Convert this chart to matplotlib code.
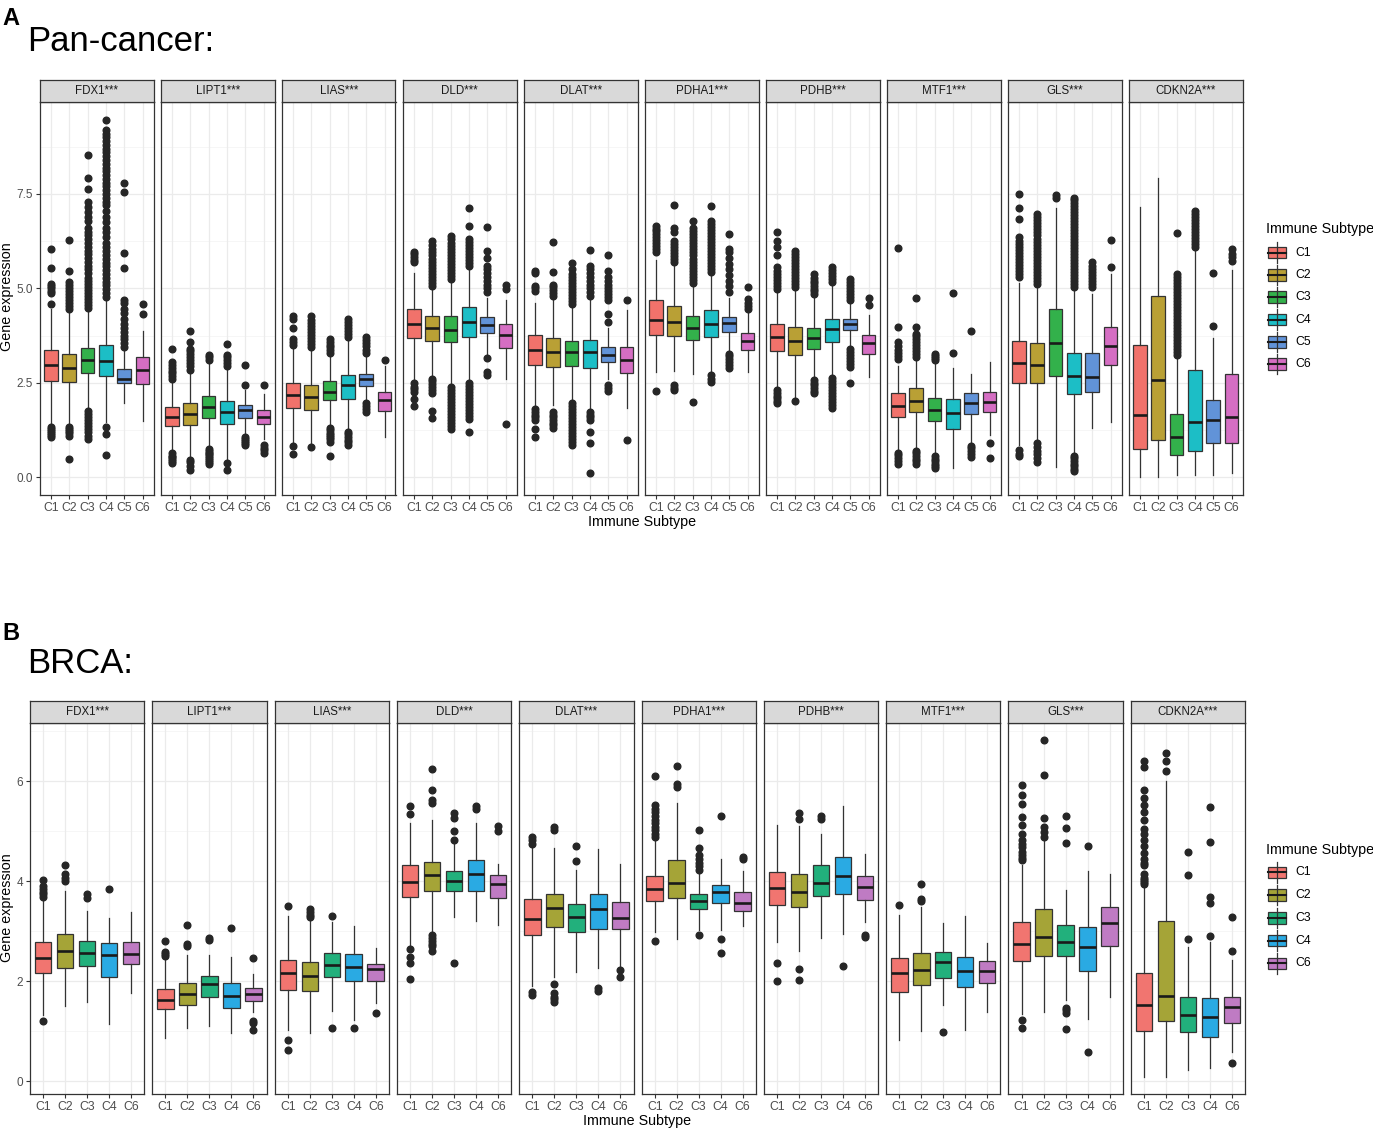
import matplotlib
matplotlib.use('Agg')
import matplotlib.pyplot as plt
from matplotlib.patches import Rectangle
from matplotlib.lines import Line2D

plt.rcParams['font.family'] = ['Liberation Sans', 'DejaVu Sans']

# ---------------- DATA ----------------
GENES = ['FDX1', 'LIPT1', 'LIAS', 'DLD', 'DLAT', 'PDHA1', 'PDHB', 'MTF1', 'GLS', 'CDKN2A']
A_CATS = ['C1', 'C2', 'C3', 'C4', 'C5', 'C6']
B_CATS = ['C1', 'C2', 'C3', 'C4', 'C6']
A_COLORS = ['#F1726B', '#B9A035', '#33B14B', '#1CBEC6', '#6193D8', '#D56EC3']
B_COLORS = ['#F17570', '#A5A437', '#22B07C', '#2AAAE3', '#BF7BC3']
A_TICKS = [0.0, 2.5, 5.0, 7.5]
A_TICKLABELS = ['0.0', '2.5', '5.0', '7.5']
B_TICKS = [0, 2, 4, 6]
B_TICKLABELS = ['0', '2', '4', '6']

# box rows: [whisker low, q1, median, q3, whisker high] per subtype
# ---- Panel A: Pan-cancer ----
A_FDX1_BOX = [[1.42, 2.55, 2.98, 3.36, 4.45], [1.42, 2.52, 2.89, 3.27, 4.38], [1.82, 2.76, 3.11, 3.43, 4.40],
              [1.45, 2.67, 3.07, 3.49, 4.70], [1.97, 2.48, 2.61, 2.87, 3.35], [1.49, 2.46, 2.85, 3.17, 3.86]]
A_FDX1_OUT = [[1.07, 1.12, 1.17, 1.22, 1.28, 1.33, 4.59, 4.88, 4.94, 5.0, 5.06, 5.12, 5.53, 6.03],
              [0.48, 1.1, 1.16, 1.22, 1.28, 1.34, 4.45, 4.53, 4.61, 4.69, 4.77, 4.85, 4.93, 5.01, 5.09, 5.17, 5.47, 6.28],
              [1.0, 1.1, 1.2, 1.28, 1.36, 1.44, 1.52, 1.6, 1.68, 1.76, 4.47, 4.55, 4.63, 4.71, 4.79, 4.87, 4.95, 5.03,
               5.11, 5.19, 5.27, 5.4, 5.5, 5.6, 5.7, 5.8, 5.9, 6.0, 6.1, 6.2, 6.3, 6.4, 6.5, 6.6, 6.79, 6.9, 7.02,
               7.15, 7.3, 7.63, 7.92, 8.52],
              [0.59, 1.13, 1.34, 4.78, 4.88, 4.98, 5.08, 5.18, 5.28, 5.38, 5.48, 5.58, 5.68, 5.78, 5.88, 5.98, 6.1,
               6.2, 6.35, 6.5, 6.6, 6.75, 6.9, 7.05, 7.2, 7.3, 7.4, 7.5, 7.6, 7.7, 7.8, 7.9, 8.0, 8.1, 8.2, 8.3, 8.4,
               8.5, 8.6, 8.7, 8.8, 8.9, 9.0, 9.1, 9.2, 9.47],
              [3.45, 3.55, 3.65, 3.75, 3.85, 3.95, 4.05, 4.2, 4.35, 4.46, 4.62, 4.68, 5.54, 5.93, 7.56, 7.8],
              [4.33, 4.59]]
A_LIPT1_BOX = [[0.66, 1.35, 1.60, 1.85, 2.55], [0.55, 1.38, 1.66, 1.95, 2.79], [0.81, 1.57, 1.86, 2.15, 3.02],
               [0.46, 1.41, 1.73, 2.02, 2.90], [1.10, 1.56, 1.78, 1.91, 2.30], [1.00, 1.40, 1.60, 1.78, 2.20]]
A_LIPT1_OUT = [[0.37, 0.42, 0.47, 0.52, 0.57, 0.63, 2.61, 2.68, 2.75, 2.82, 2.9, 2.97, 3.05, 3.40],
               [0.19, 0.3, 0.4, 0.45, 2.85, 2.93, 3.01, 3.09, 3.17, 3.25, 3.33, 3.4, 3.58, 3.86],
               [0.35, 0.4, 0.45, 0.5, 0.55, 0.6, 0.65, 0.7, 0.75, 3.1, 3.17, 3.24],
               [0.18, 0.37, 2.95, 3.02, 3.1, 3.17, 3.24, 3.52],
               [0.85, 0.9, 0.95, 1.0, 1.05, 2.45, 2.97],
               [0.65, 0.72, 0.78, 0.85, 2.45]]
A_LIAS_BOX = [[0.90, 1.84, 2.17, 2.50, 3.45], [0.90, 1.79, 2.11, 2.45, 3.40], [1.40, 2.04, 2.26, 2.54, 3.25],
              [1.30, 2.08, 2.44, 2.70, 3.60], [2.00, 2.41, 2.59, 2.73, 3.20], [1.05, 1.76, 2.04, 2.26, 2.95]]
A_LIAS_OUT = [[0.62, 0.83, 3.5, 3.58, 3.66, 3.96, 4.2, 4.26],
              [0.81, 3.45, 3.52, 3.6, 3.68, 3.76, 3.84, 3.92, 4.0, 4.08, 4.15, 4.28],
              [0.55, 0.94, 1.0, 1.06, 1.12, 1.18, 1.24, 1.3, 3.3, 3.37, 3.44, 3.51, 3.58, 3.65],
              [0.85, 0.92, 0.99, 1.06, 1.13, 1.2, 3.7, 3.78, 3.86, 3.94, 4.02, 4.1, 4.2],
              [1.73, 1.8, 1.88, 1.95, 3.3, 3.38, 3.46, 3.54, 3.62, 3.7],
              [3.10]]
A_DLD_BOX = [[2.52, 3.69, 4.06, 4.46, 5.40], [2.70, 3.61, 3.96, 4.28, 5.00], [2.50, 3.58, 3.90, 4.26, 5.15],
             [2.60, 3.71, 4.11, 4.50, 5.50], [3.20, 3.82, 4.04, 4.24, 4.75], [2.59, 3.42, 3.76, 4.05, 4.68]]
A_DLD_OUT = [[1.88, 2.08, 2.26, 2.33, 2.4, 2.48, 5.69, 5.76, 5.83, 5.9, 5.95],
             [1.57, 1.76, 2.22, 2.3, 2.38, 2.46, 2.54, 2.61, 5.07, 5.15, 5.23, 5.31, 5.39, 5.47, 5.55, 5.63, 5.71,
              5.79, 5.87, 5.95, 6.05, 6.15, 6.26],
             [1.28, 1.36, 1.44, 1.52, 1.6, 1.68, 1.76, 1.84, 1.92, 2.0, 2.08, 2.16, 2.24, 2.32, 2.4, 5.25, 5.33,
              5.41, 5.49, 5.57, 5.65, 5.73, 5.81, 5.89, 5.97, 6.05, 6.13, 6.21, 6.3, 6.39],
             [1.2, 1.53, 1.62, 1.7, 1.78, 1.86, 1.94, 2.02, 2.1, 2.18, 2.26, 2.34, 2.42, 2.5, 5.6, 5.68, 5.76, 5.84,
              5.92, 6.0, 6.08, 6.16, 6.24, 6.32, 6.66, 7.12],
             [2.7, 2.79, 3.16, 4.9, 5.0, 5.1, 5.2, 5.3, 5.4, 5.5, 5.6, 5.8, 6.0, 6.63],
             [1.42, 4.99, 5.09]]
A_DLAT_BOX = [[1.90, 2.98, 3.38, 3.76, 4.60], [1.90, 2.92, 3.32, 3.69, 4.72], [2.04, 2.94, 3.32, 3.60, 4.50],
              [1.80, 2.89, 3.32, 3.64, 4.70], [2.60, 3.05, 3.23, 3.45, 3.95], [1.82, 2.76, 3.11, 3.45, 4.42]]
A_DLAT_OUT = [[1.07, 1.27, 1.51, 1.58, 1.65, 1.72, 1.8, 4.94, 5.0, 5.07, 5.4, 5.46],
              [1.3, 1.37, 1.44, 1.51, 1.58, 1.65, 1.72, 4.8, 4.88, 4.96, 5.04, 5.1, 5.44, 6.24],
              [0.85, 0.93, 1.01, 1.09, 1.17, 1.25, 1.33, 1.41, 1.49, 1.57, 1.65, 1.73, 1.81, 1.89, 1.97, 4.59, 4.67,
               4.75, 4.83, 4.91, 4.99, 5.07, 5.15, 5.23, 5.31, 5.39, 5.5, 5.66],
              [0.1, 0.9, 1.2, 1.51, 1.58, 1.65, 1.73, 4.8, 4.9, 5.0, 5.1, 5.2, 5.3, 5.4, 5.5, 5.6, 6.02],
              [2.28, 2.36, 2.44, 4.1, 4.33, 4.68, 4.76, 4.84, 4.92, 5.0, 5.1, 5.2, 5.3, 5.47, 5.88],
              [0.98, 4.7]]
A_PDHA1_BOX = [[2.79, 3.76, 4.15, 4.68, 5.75], [2.80, 3.73, 4.11, 4.53, 5.60], [2.74, 3.64, 3.96, 4.28, 5.10],
               [2.60, 3.71, 4.05, 4.42, 5.40], [3.30, 3.84, 4.08, 4.24, 4.75], [2.79, 3.38, 3.61, 3.83, 4.35]]
A_PDHA1_OUT = [[2.29, 5.95, 6.03, 6.11, 6.19, 6.27, 6.35, 6.43, 6.51, 6.58, 6.66],
               [2.3, 2.37, 2.44, 5.7, 5.78, 5.86, 5.94, 6.02, 6.1, 6.18, 6.26, 6.5, 6.6, 7.2],
               [2.0, 5.15, 5.23, 5.31, 5.39, 5.47, 5.55, 5.63, 5.71, 5.79, 5.87, 5.95, 6.03, 6.11, 6.19, 6.27, 6.35,
                6.43, 6.51, 6.6, 6.79],
               [2.52, 2.6, 2.7, 5.43, 5.51, 5.59, 5.67, 5.75, 5.83, 5.91, 5.99, 6.07, 6.15, 6.23, 6.31, 6.39, 6.47,
                6.55, 6.63, 6.71, 6.79, 7.19],
               [2.88, 2.96, 3.04, 3.12, 3.2, 3.27, 4.9, 5.05, 5.2, 5.35, 5.5, 5.65, 5.8, 5.95, 6.04, 6.44],
               [4.46, 4.54, 4.62, 4.72, 5.03]]
A_PDHB_BOX = [[2.35, 3.34, 3.71, 4.05, 4.90], [2.10, 3.23, 3.61, 3.98, 4.95], [2.60, 3.39, 3.69, 3.95, 4.75],
              [2.70, 3.58, 3.91, 4.20, 5.05], [3.50, 3.89, 4.05, 4.20, 4.60], [2.66, 3.25, 3.54, 3.76, 4.30]]
A_PDHB_OUT = [[1.95, 2.02, 2.09, 2.16, 2.23, 2.3, 4.99, 5.07, 5.15, 5.23, 5.31, 5.39, 5.47, 5.56, 5.88, 6.1, 6.26, 6.48],
              [2.02, 5.03, 5.11, 5.19, 5.27, 5.35, 5.43, 5.51, 5.59, 5.67, 5.75, 5.83, 5.91, 6.0],
              [2.22, 2.29, 2.36, 2.43, 2.5, 2.57, 4.85, 4.92, 4.99, 5.06, 5.13, 5.2, 5.27, 5.37],
              [1.82, 1.9, 1.98, 2.06, 2.14, 2.22, 2.3, 2.38, 2.46, 2.54, 2.62, 5.16, 5.24, 5.32, 5.4, 5.48, 5.56],
              [2.5, 2.92, 3.0, 3.08, 3.16, 3.24, 3.32, 3.4, 4.68, 4.76, 4.84, 4.92, 5.0, 5.08, 5.16, 5.25],
              [4.56, 4.74]]
A_MTF1_BOX = [[0.70, 1.60, 1.89, 2.22, 2.95], [0.75, 1.72, 2.02, 2.35, 3.15], [0.60, 1.49, 1.79, 2.10, 3.00],
              [0.24, 1.27, 1.69, 2.07, 2.90], [0.90, 1.66, 1.97, 2.23, 2.74], [1.12, 1.72, 2.00, 2.26, 3.05]]
A_MTF1_OUT = [[0.34, 0.42, 0.5, 0.58, 0.65, 3.14, 3.22, 3.3, 3.38, 3.46, 3.58, 3.98, 6.07],
              [0.35, 0.42, 0.49, 0.56, 0.63, 0.7, 3.18, 3.26, 3.34, 3.42, 3.5, 3.58, 3.66, 3.74, 3.8, 3.98, 4.75],
              [0.24, 0.3, 0.36, 0.42, 0.48, 0.55, 3.1, 3.16, 3.22, 3.27],
              [3.3, 4.87],
              [0.53, 0.6, 0.68, 0.76, 0.83, 3.86],
              [0.5, 0.9]]
A_GLS_BOX = [[0.85, 2.48, 3.01, 3.61, 5.15], [1.00, 2.48, 2.98, 3.54, 5.05], [0.28, 2.68, 3.55, 4.46, 7.14],
             [0.60, 2.19, 2.68, 3.29, 4.95], [1.29, 2.26, 2.66, 3.29, 4.85], [1.47, 2.96, 3.47, 3.98, 5.38]]
A_GLS_OUT = [[0.55, 0.62, 0.72, 5.29, 5.37, 5.45, 5.53, 5.61, 5.69, 5.77, 5.85, 5.93, 6.01, 6.09, 6.17, 6.25, 6.35,
              6.83, 7.12, 7.49],
             [0.41, 0.5, 0.6, 0.7, 0.8, 0.91, 5.12, 5.2, 5.28, 5.36, 5.44, 5.52, 5.6, 5.68, 5.76, 5.84, 5.92, 6.0,
              6.08, 6.16, 6.24, 6.32, 6.4, 6.48, 6.56, 6.64, 6.72, 6.8, 6.9, 6.97],
             [7.4, 7.47],
             [0.15, 0.22, 0.29, 0.36, 0.43, 0.5, 0.55, 5.03, 5.11, 5.19, 5.27, 5.35, 5.43, 5.51, 5.59, 5.67, 5.75,
              5.83, 5.91, 5.99, 6.07, 6.15, 6.23, 6.31, 6.39, 6.47, 6.55, 6.63, 6.71, 6.79, 6.87, 6.95, 7.03, 7.11,
              7.19, 7.27, 7.35, 7.4],
             [5.03, 5.11, 5.19, 5.27, 5.35, 5.43, 5.51, 5.6, 5.69],
             [5.56, 6.29]]
A_CDKN2A_BOX = [[0.00, 0.74, 1.64, 3.49, 7.16], [0.00, 0.97, 2.57, 4.81, 7.91], [0.05, 0.59, 1.07, 1.66, 3.20],
                [0.05, 0.68, 1.47, 2.83, 6.00], [0.05, 0.90, 1.51, 2.04, 3.69], [0.10, 0.90, 1.60, 2.74, 5.49]]
A_CDKN2A_OUT = [[], [],
                [3.23, 3.31, 3.39, 3.47, 3.55, 3.63, 3.71, 3.79, 3.87, 3.95, 4.03, 4.11, 4.19, 4.27, 4.35, 4.43,
                 4.51, 4.59, 4.67, 4.75, 4.83, 4.91, 4.99, 5.07, 5.15, 5.23, 5.31, 5.38, 6.46],
                [6.09, 6.17, 6.25, 6.33, 6.41, 6.49, 6.57, 6.65, 6.73, 6.81, 6.89, 6.97, 7.05],
                [3.99, 5.4],
                [5.73, 5.82, 5.92, 6.04]]

# ---- Panel B: BRCA ----
B_FDX1_BOX = [[1.32, 2.16, 2.46, 2.78, 3.65], [1.50, 2.27, 2.60, 2.95, 3.80], [1.59, 2.30, 2.57, 2.80, 3.40],
              [1.14, 2.08, 2.52, 2.77, 3.27], [1.76, 2.34, 2.54, 2.78, 3.39]]
B_FDX1_OUT = [[1.2, 3.69, 3.74, 3.79, 3.84, 3.9, 4.02], [4.0, 4.07, 4.14, 4.33], [3.67, 3.74], [3.85], []]
B_LIPT1_BOX = [[0.86, 1.44, 1.63, 1.85, 2.45], [1.06, 1.53, 1.74, 1.96, 2.52], [1.10, 1.68, 1.94, 2.10, 2.52],
               [0.97, 1.46, 1.70, 1.97, 2.48], [1.39, 1.60, 1.74, 1.87, 2.14]]
B_LIPT1_OUT = [[2.51, 2.55, 2.59, 2.81], [2.7, 2.74, 3.12], [2.82, 2.86], [3.06], [1.02, 1.16, 1.2, 2.47]]
B_LIAS_BOX = [[1.03, 1.82, 2.16, 2.43, 3.31], [0.97, 1.80, 2.10, 2.38, 3.22], [1.40, 2.09, 2.33, 2.56, 3.18],
              [1.23, 2.01, 2.29, 2.54, 3.10], [1.56, 2.00, 2.24, 2.35, 2.66]]
B_LIAS_OUT = [[0.62, 0.83, 3.50], [3.28, 3.33, 3.38, 3.44], [1.07, 3.31], [1.07], [1.37]]
B_DLD_BOX = [[2.72, 3.68, 3.99, 4.32, 5.17], [2.95, 3.80, 4.12, 4.39, 5.22], [3.29, 3.80, 4.01, 4.21, 4.75],
             [3.21, 3.80, 4.15, 4.43, 5.17], [3.12, 3.66, 3.94, 4.12, 4.34]]
B_DLD_OUT = [[2.05, 2.36, 2.49, 2.64, 5.35, 5.5], [2.6, 2.7, 2.75, 2.8, 2.86, 2.92, 5.57, 5.63, 5.83, 6.25],
             [2.36, 4.83, 5.0, 5.27, 5.37], [5.45, 5.5], [5.0, 5.1]]
B_DLAT_BOX = [[1.91, 2.92, 3.25, 3.64, 4.72], [2.09, 3.08, 3.47, 3.74, 4.67], [2.19, 2.99, 3.28, 3.55, 4.22],
              [2.26, 3.05, 3.44, 3.74, 4.65], [2.30, 3.05, 3.27, 3.58, 4.35]]
B_DLAT_OUT = [[1.72, 1.79, 4.75, 4.82, 4.89], [1.58, 1.64, 1.68, 1.76, 1.94, 5.03, 5.09], [4.41, 4.71], [1.8, 1.87],
              [2.08, 2.22]]
B_PDHA1_BOX = [[2.99, 3.61, 3.85, 4.11, 4.80], [2.84, 3.66, 3.97, 4.43, 5.57], [3.02, 3.44, 3.60, 3.74, 4.15],
               [3.02, 3.56, 3.78, 3.93, 4.45], [3.11, 3.41, 3.56, 3.79, 4.21]]
B_PDHA1_OUT = [[2.81, 4.89, 4.95, 5.02, 5.09, 5.16, 5.23, 5.3, 5.38, 5.45, 5.52, 6.1], [5.89, 5.94, 6.3],
               [2.92, 4.22, 4.3, 4.37, 4.45, 4.52, 4.67, 5.02], [2.56, 2.84, 5.31], [4.45, 4.49]]
B_PDHB_BOX = [[2.79, 3.52, 3.87, 4.19, 5.13], [2.61, 3.49, 3.79, 4.15, 5.11], [2.86, 3.71, 3.97, 4.32, 4.95],
              [2.94, 3.75, 4.11, 4.49, 5.51], [3.19, 3.62, 3.89, 4.10, 4.55]]
B_PDHB_OUT = [[2.0, 2.36], [2.02, 2.25, 5.25, 5.37], [5.24, 5.31], [2.3], [2.88, 2.92]]
B_MTF1_BOX = [[0.83, 1.79, 2.16, 2.47, 3.32], [1.01, 1.92, 2.22, 2.56, 3.49], [1.52, 2.07, 2.39, 2.58, 3.16],
              [1.03, 1.88, 2.20, 2.49, 3.30], [1.39, 1.96, 2.20, 2.41, 2.76]]
B_MTF1_OUT = [[3.52], [3.6, 3.64, 3.95], [0.99], [], []]
B_GLS_BOX = [[1.35, 2.41, 2.74, 3.18, 4.32], [1.38, 2.51, 2.88, 3.45, 4.80], [1.62, 2.51, 2.78, 3.12, 3.82],
             [1.24, 2.20, 2.68, 3.09, 4.20], [1.69, 2.70, 3.16, 3.48, 4.15]]
B_GLS_OUT = [[1.06, 1.22, 4.42, 4.47, 4.52, 4.59, 4.68, 4.75, 4.82, 4.95, 5.12, 5.29, 5.54, 5.72, 5.92],
             [4.89, 4.99, 5.09, 5.27, 6.12, 6.82], [1.04, 1.37, 1.42, 1.46, 4.76, 5.07, 5.31], [0.59, 4.71], []]
B_CDKN2A_BOX = [[0.08, 1.00, 1.52, 2.16, 3.89], [0.09, 1.20, 1.70, 3.20, 6.00], [0.23, 0.99, 1.33, 1.69, 2.68],
                [0.26, 0.88, 1.29, 1.66, 2.79], [0.58, 1.16, 1.48, 1.69, 2.42]]
B_CDKN2A_OUT = [[3.94, 3.98, 4.02, 4.07, 4.15, 4.32, 4.36, 4.45, 4.57, 4.7, 4.83, 4.95, 5.05, 5.22, 5.39, 5.52,
                 5.67, 5.82, 6.29, 6.4],
                [6.2, 6.4, 6.56], [2.84, 4.13, 4.58], [2.91, 3.57, 3.69, 4.79, 5.49], [0.36, 2.6, 3.28]]

A_BOX = {g: globals()['A_%s_BOX' % g] for g in GENES}
A_OUT = {g: globals()['A_%s_OUT' % g] for g in GENES}
B_BOX = {g: globals()['B_%s_BOX' % g] for g in GENES}
B_OUT = {g: globals()['B_%s_OUT' % g] for g in GENES}

# ---------------- LAYOUT ----------------
W, H = 1373, 1129
fig = plt.figure(figsize=(W / 100, H / 100), dpi=100)
EDGE = '#333333'
GRID = '#EBEBEB'


def add_ax(x0, y0, x1, y1, **kw):
    return fig.add_axes([x0 / W, 1 - y1 / H, (x1 - x0) / W, (y1 - y0) / H], **kw)


def all_vals(boxes, outs):
    vals = []
    for g in GENES:
        for b in boxes[g]:
            vals.extend(b)
        for o in outs[g]:
            vals.extend(o)
    return min(vals), max(vals)


def draw_panel(boxes, outs, cats, colors, ticks, ticklabels, minor, left, pitch, width,
               strip_top, plot_top, plot_bottom):
    lo, hi = all_vals(boxes, outs)
    pad = (hi - lo) * 0.05
    ylim = (lo - pad, hi + pad)
    pos = list(range(1, len(cats) + 1))
    for i, g in enumerate(GENES):
        x0 = left + i * pitch
        ax = add_ax(x0, plot_top, x0 + width, plot_bottom)
        ax.set_facecolor('white')
        ax.set_xlim(0.4, len(cats) + 0.6)
        ax.set_ylim(*ylim)
        for y in minor:
            ax.axhline(y, color='#F3F3F3', lw=0.5, zorder=0)
        for y in ticks:
            ax.axhline(y, color=GRID, lw=0.9, zorder=0)
        for p in pos:
            ax.axvline(p, color=GRID, lw=0.9, zorder=0)
        stats = [dict(whislo=b[0], q1=b[1], med=b[2], q3=b[3], whishi=b[4], fliers=o)
                 for b, o in zip(boxes[g], outs[g])]
        bp = ax.bxp(stats, positions=pos, widths=0.75, patch_artist=True, showcaps=False,
                    boxprops=dict(edgecolor=EDGE, linewidth=0.9),
                    medianprops=dict(color='#1A1A1A', linewidth=1.9),
                    whiskerprops=dict(color=EDGE, linewidth=0.9),
                    flierprops=dict(marker='o', markerfacecolor='#262626', markeredgecolor='#262626',
                                    markersize=4.8, linestyle='none'))
        for patch, c in zip(bp['boxes'], colors):
            patch.set_facecolor(c)
            patch.set_zorder(2)
        ax.set_xticks(pos)
        ax.set_xticklabels(cats)
        ax.set_yticks(ticks)
        if i == 0:
            ax.set_yticklabels(ticklabels)
            ax.tick_params(axis='y', length=3, width=0.8, color=EDGE, labelcolor='#4D4D4D',
                           labelsize=8.5, pad=2)
        else:
            ax.tick_params(axis='y', left=False, labelleft=False)
        ax.tick_params(axis='x', length=3, width=0.8, color=EDGE, labelcolor='#4D4D4D',
                       labelsize=8.8, pad=2)
        for s in ax.spines.values():
            s.set_color(EDGE)
            s.set_linewidth(0.9)
        st = add_ax(x0, strip_top, x0 + width, plot_top)
        st.set_facecolor('#D9D9D9')
        st.set_xticks([])
        st.set_yticks([])
        for s in st.spines.values():
            s.set_color(EDGE)
            s.set_linewidth(0.9)
        st.text(0.5, 0.5, g + '***', ha='center', va='center', fontsize=8.3, color='#1A1A1A',
                transform=st.transAxes)


draw_panel(A_BOX, A_OUT, A_CATS, A_COLORS, A_TICKS, A_TICKLABELS, [1.25, 3.75, 6.25, 8.75],
           40, 121.0, 113.5, 80, 101.7, 495)
draw_panel(B_BOX, B_OUT, B_CATS, B_COLORS, B_TICKS, B_TICKLABELS, [1, 3, 5, 7],
           30, 122.3, 114.3, 701, 723.3, 1094)

# overlay for titles and legends (pixel coordinates)
ov = fig.add_axes([0, 0, 1, 1], zorder=-1)
ov.set_xlim(0, W)
ov.set_ylim(H, 0)
ov.axis('off')

ov.text(2, 25, 'A', fontsize=17, fontweight='bold', ha='left', va='baseline')
ov.text(27, 51, 'Pan-cancer:', fontsize=25, ha='left', va='baseline')
ov.text(2, 640, 'B', fontsize=17, fontweight='bold', ha='left', va='baseline')
ov.text(27, 673, 'BRCA:', fontsize=25, ha='left', va='baseline')

ov.text(7, 297, 'Gene expression', rotation=90, fontsize=10.3, ha='center', va='center')
ov.text(7, 908, 'Gene expression', rotation=90, fontsize=10.3, ha='center', va='center')
ov.text(642, 522, 'Immune Subtype', fontsize=10.3, ha='center', va='center')
ov.text(637, 1121, 'Immune Subtype', fontsize=10.3, ha='center', va='center')


def legend(cats, colors, title_y, first_y, step):
    ov.text(1266, title_y, 'Immune Subtype', fontsize=10.3, ha='left', va='center')
    for j, (c, col) in enumerate(zip(cats, colors)):
        cy = first_y + j * step
        ov.add_line(Line2D([1277.3, 1277.3], [cy - 10.2, cy + 10.2], color=EDGE, lw=0.9))
        ov.add_patch(Rectangle((1268.3, cy - 5.8), 18, 11.6, facecolor=col, edgecolor=EDGE, lw=0.9))
        ov.add_line(Line2D([1268.3, 1286.3], [cy, cy], color='#1A1A1A', lw=1.5))
        ov.text(1295.5, cy, c, fontsize=8.8, ha='left', va='center')


legend(A_CATS, A_COLORS, 229, 252.5, 22.34)
legend(B_CATS, B_COLORS, 850, 872.3, 22.75)

fig.savefig('out.png', dpi=100)
